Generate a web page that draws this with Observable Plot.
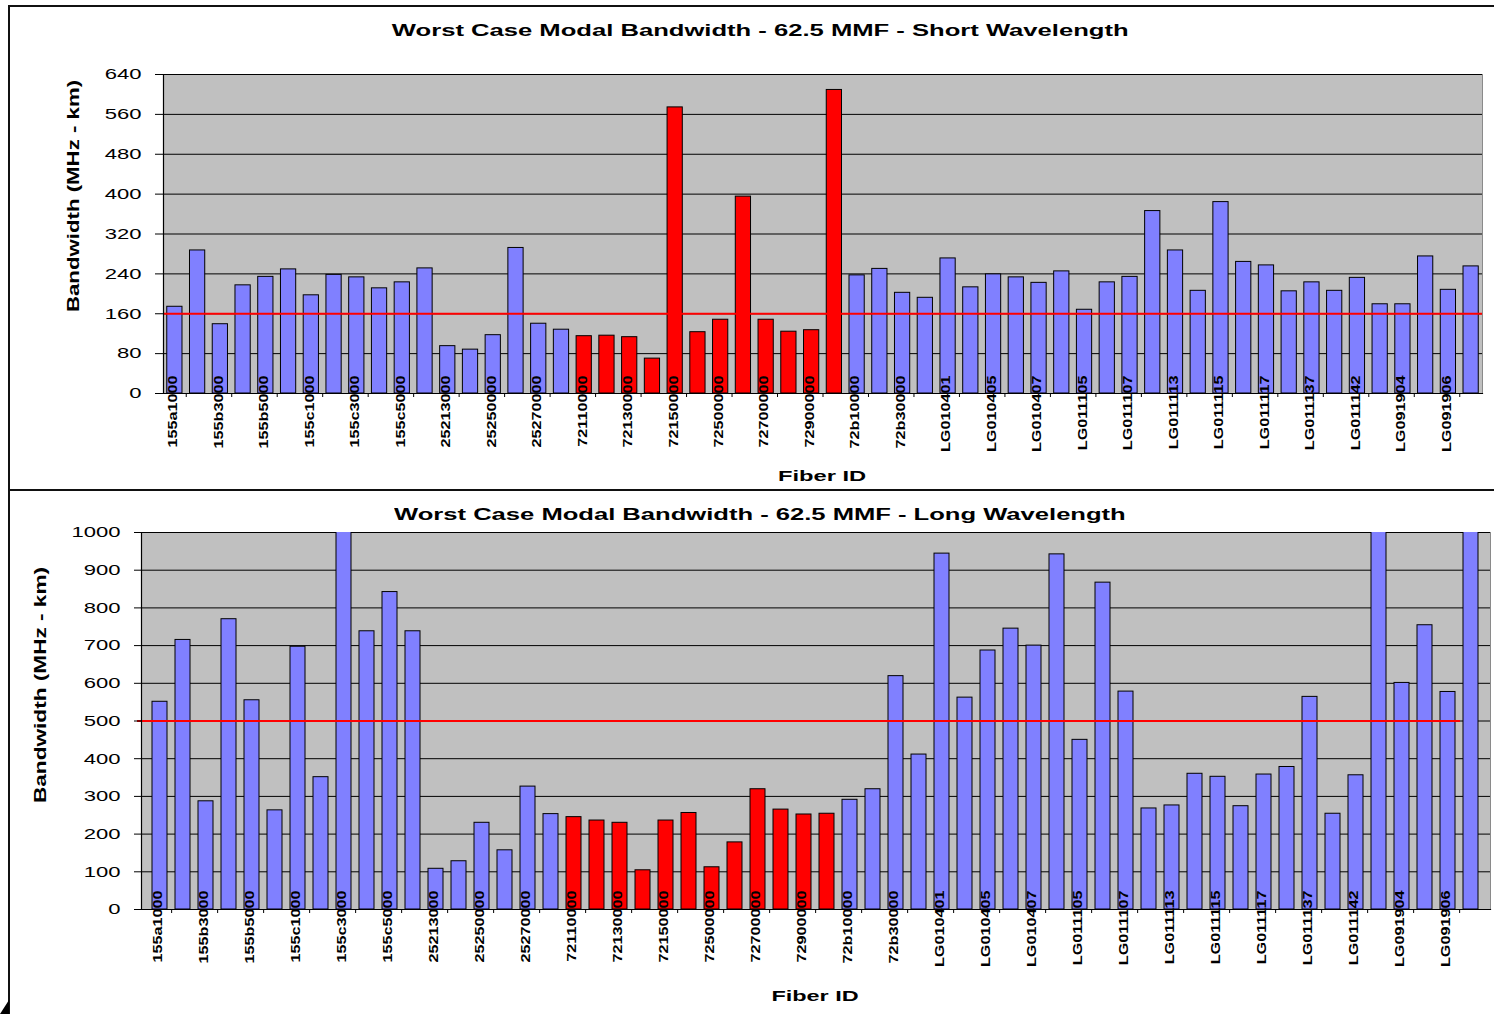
<!DOCTYPE html>
<html>
<head>
<meta charset="utf-8">
<script src="https://cdn.jsdelivr.net/npm/d3@7"></script>
<script src="https://cdn.jsdelivr.net/npm/@observablehq/plot@0.6"></script>
<style>
  html, body { margin: 0; padding: 0; background: #fff; }
  body { width: 1494px; height: 1014px; position: relative; overflow: hidden;
         font-family: "Liberation Sans", Arial, sans-serif; color: #000; }
  .line { position: absolute; background: #111; }
  .chart { position: absolute; left: 0; }
</style>
</head>
<body>
<div class="line" style="left:8px; top:5px; width:1486px; height:1.5px;"></div>
<div class="line" style="left:8px; top:5px; width:1.5px; height:1009px;"></div>
<div class="line" style="left:8px; top:489px; width:1486px; height:1.5px;"></div>
<div style="position:absolute; left:0; top:1000px; width:0; height:0; border-left:9px solid transparent; border-bottom:14px solid #000;"></div>
<div id="topChart" class="chart" style="top:0px;"></div>
<div id="bottomChart" class="chart" style="top:490px;"></div>
<script>
// ---------- data ----------
const fiberIds = [
  "155a1000","155b3000","155b5000","155c1000","155c3000","155c5000",
  "25213000","25250000","25270000","72110000","72130000","72150000",
  "72500000","72700000","72900000","72b10000","72b30000","LG010401",
  "LG010405","LG010407","LG011105","LG011107","LG011113","LG011115",
  "LG011117","LG011137","LG011142","LG091904","LG091906"
];
// two fibers per labelled ID (only every second category is labelled)
const fibersPerId = ["1", "2"];
const highlightedIds = ["72110000","72130000","72150000","72500000","72700000","72900000"];

const shortWavelength = [
  174,287,139,217,234,249,197,238,233,211,223,251,95,88,117,292,140,128,
  115,116,113,70,574,123,148,395,148,124,127,609,
  237,250,202,192,271,213,239,233,222,245,168,223,234,366,287,206,384,264,
  257,205,223,206,232,179,179,275,208,255
];
// bars that run past the 1000 axis maximum are clipped in the original
const longWavelength = [
  551,715,287,770,555,263,697,351,1020,738,842,738,108,128,230,157,326,253,
  245,236,230,104,236,256,112,178,319,265,252,254,
  291,319,619,411,944,562,687,745,700,942,450,867,578,268,276,360,352,274,
  358,378,564,254,356,1020,601,754,577,1020
];
const shortThreshold = 160;
const longThreshold = 500;
const shortTicks = [0, 80, 160, 240, 320, 400, 480, 560, 640];
const longTicks = [0, 100, 200, 300, 400, 500, 600, 700, 800, 900, 1000];

const titles = {
  short: "Worst Case Modal Bandwidth - 62.5 MMF - Short Wavelength",
  long: "Worst Case Modal Bandwidth - 62.5 MMF - Long Wavelength"
};
const yTitle = "Bandwidth (MHz - km)";
const xTitle = "Fiber ID";

const colors = { normal: "#8080FF", highlight: "#FF0000", plotBg: "#C0C0C0" };

// ---------- build ----------
const keys = fiberIds.flatMap(id => fibersPerId.map(f => `${id} #${f}`));
const labelledKeys = keys.filter((k, i) => i % 2 === 0);
const idOf = k => k.split(" #")[0];

function rows(values) {
  return keys.map((key, i) => ({ key, id: idOf(key), value: values[i] }));
}

const FONT = '"Liberation Sans", Arial, sans-serif';

function makeChart(cfg) {
  const innerW = cfg.width - cfg.marginLeft - cfg.marginRight;
  const step = innerW / keys.length;
  const chart = Plot.plot({
    width: cfg.width,
    height: cfg.height,
    marginTop: cfg.marginTop,
    marginBottom: cfg.marginBottom,
    marginLeft: cfg.marginLeft,
    marginRight: cfg.marginRight,
    style: { background: "transparent", fontFamily: FONT, color: "#000", overflow: "visible" },
    x: { domain: keys, paddingInner: 0.33, paddingOuter: 0.165, axis: null },
    y: { domain: [0, cfg.yMax], axis: null },
    marks: [
      Plot.frame({ fill: colors.plotBg, stroke: "#8a8a8a" }),
      Plot.gridY(cfg.ticks, { stroke: "#000", strokeOpacity: 1, strokeWidth: 1 }),
      Plot.barY(rows(cfg.values), {
        x: "key", y: "value",
        fill: d => highlightedIds.includes(d.id) ? colors.highlight : colors.normal,
        stroke: "#000", strokeWidth: 1, clip: true
      }),
      Plot.ruleY([cfg.threshold], {
        stroke: "#FF0000", strokeWidth: 2,
        insetLeft: cfg.ruleInsetLeft, insetRight: cfg.ruleInsetRight
      }),
      Plot.frame({ anchor: "left", stroke: "#000", strokeWidth: 1.2 }),
      Plot.frame({ anchor: "bottom", stroke: "#000", strokeWidth: 1.2 }),
      Plot.axisY(cfg.ticks, {
        label: null,
        tickSize: cfg.tickSize, tickPadding: cfg.tickPadding, fontSize: 15,
        stroke: "#000", tickFormat: d => String(d)
      }),
      Plot.axisX(labelledKeys, {
        label: null,
        tickSize: 0, tickRotate: -90, tickPadding: -cfg.labelLift,
        textAnchor: "end", fontSize: 12, fontWeight: "bold", dx: -1.5,
        tickFormat: k => idOf(k)
      }),
      Plot.axisX(labelledKeys, {
        label: null,
        tickSize: 4, dx: step / 2, stroke: "#000", tickFormat: () => "", ariaLabel: "x-axis boundary"
      })
    ]
  });
  return chart;
}

function stretchTexts(svg, selector, factor) {
  svg.querySelectorAll(selector).forEach(t => {
    const l = t.getComputedTextLength();
    if (l > 0) {
      t.setAttribute("textLength", (l * factor).toFixed(2));
      t.setAttribute("lengthAdjust", "spacingAndGlyphs");
    }
  });
}

function htmlLabel(text, cx, cy, { size = 16, weight = "bold", length = null, rotate = 0 } = {}) {
  const el = document.createElement("div");
  el.textContent = text;
  Object.assign(el.style, {
    position: "absolute", whiteSpace: "nowrap", fontSize: size + "px", fontWeight: weight,
    lineHeight: "1", left: "0px", top: "0px", fontFamily: FONT, color: "#000"
  });
  document.body.appendChild(el);
  const w = el.offsetWidth, h = el.offsetHeight;
  const s = length ? length / w : 1;
  el.style.left = (cx - w / 2) + "px";
  el.style.top = (cy - h / 2) + "px";
  el.style.transformOrigin = "50% 50%";
  el.style.transform = `rotate(${rotate}deg) scaleX(${s})`;
}

const topSvg = makeChart({
  width: 1494, height: 490,
  marginTop: 74, marginBottom: 97, marginLeft: 163, marginRight: 12,
  yMax: 640, ticks: shortTicks, values: shortWavelength, threshold: shortThreshold,
  tickSize: 8, tickPadding: 14, labelLift: 18, ruleInsetLeft: 0, ruleInsetRight: 0
});
document.getElementById("topChart").appendChild(topSvg);

const bottomSvg = makeChart({
  width: 1494, height: 524,
  marginTop: 42, marginBottom: 105, marginLeft: 141, marginRight: 4,
  yMax: 1000, ticks: longTicks, values: longWavelength, threshold: longThreshold,
  tickSize: 7, tickPadding: 14, labelLift: 19, ruleInsetLeft: -4, ruleInsetRight: 30
});
document.getElementById("bottomChart").appendChild(bottomSvg);

for (const svg of [topSvg, bottomSvg]) {
  stretchTexts(svg, 'g[aria-label="y-axis tick label"] text', 1.47);
  stretchTexts(svg, 'g[aria-label="x-axis tick label"] text', 1.35);
}

htmlLabel(titles.short, 760, 31, { size: 16, length: 736 });
htmlLabel(titles.long, 760, 515, { size: 16, length: 732 });
htmlLabel(yTitle, 73, 196, { size: 16, length: 232, rotate: -90 });
htmlLabel(yTitle, 40, 685, { size: 16, length: 236, rotate: -90 });
htmlLabel(xTitle, 822, 476, { size: 14, length: 88 });
htmlLabel(xTitle, 815, 996, { size: 14, length: 87 });
</script>
</body>
</html>
